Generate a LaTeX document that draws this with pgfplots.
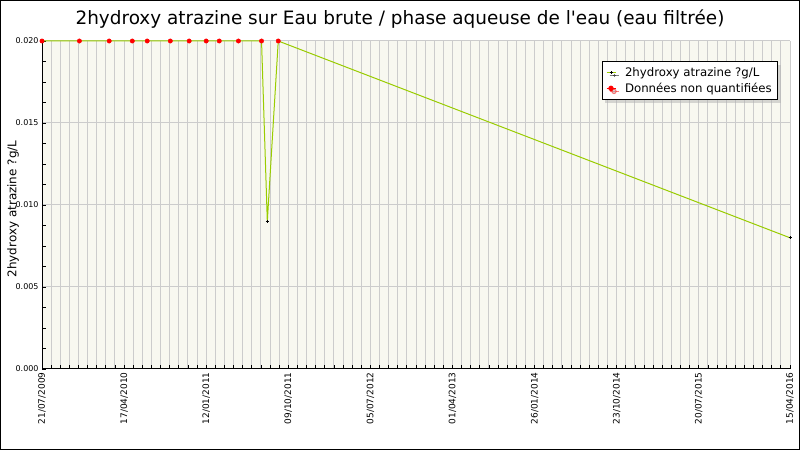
\documentclass[border=0pt]{standalone}
\usepackage{fontspec}
\setmainfont{DejaVu Sans}
\usepackage{pgfplots}
\pgfplotsset{compat=1.18}
\usetikzlibrary{shadows}

\definecolor{bgc}{HTML}{F8F8F0}
\definecolor{gridc}{HTML}{CCCCCC}
\definecolor{linec}{HTML}{99CC00}

% days since 21/07/2009
\pgfplotstableread{
x y
0 0.020
123 0.020
221 0.020
297 0.020
346 0.020
422 0.020
484 0.020
540 0.020
583 0.020
646 0.020
722 0.020
741 0.009
777 0.020
2460 0.008
}\allpts
\pgfplotstableread{
x y
741 0.009
2460 0.008
}\quantpts
\pgfplotstableread{
x y
0 0.020
123 0.020
221 0.020
297 0.020
346 0.020
422 0.020
484 0.020
540 0.020
583 0.020
646 0.020
722 0.020
777 0.020
}\nqpts

\begin{document}
\begin{tikzpicture}
\useasboundingbox (0,0) rectangle (800bp,450bp);
\fill[white] (0,0) rectangle (800bp,450bp);
\begin{axis}[
    at={(42bp,81bp)}, anchor=south west,
    scale only axis, width=748bp, height=328bp,
    xmin=0, xmax=2460, ymin=0, ymax=0.02,
    axis x line=bottom, axis y line=left,
    axis line style={-, black, line width=1bp},
    axis background/.style={fill=bgc},
    clip=false,
    xtick={0,270,540,810,1080,1350,1620,1890,2160,2460},
    xticklabels={21/07/2009,17/04/2010,12/01/2011,09/10/2011,05/07/2012,01/04/2013,26/01/2014,23/10/2014,20/07/2015,15/04/2016},
    minor xtick={0,30,...,2460},
    x tick label style={rotate=90, anchor=east, font=\fontsize{9}{10}\selectfont},
    ytick={0,0.005,0.01,0.015,0.02},
    minor y tick num=3,
    scaled y ticks=false,
    y tick label style={font=\fontsize{8}{9}\selectfont},
    yticklabel style={/pgf/number format/fixed, /pgf/number format/fixed zerofill, /pgf/number format/precision=3},
    /pgf/number format/assume math mode=true,
    tick style={black, line width=0.8bp},
    major tick length=4bp, minor tick length=4bp,
    tick align=inside,
    xmajorgrids, xminorgrids, ymajorgrids,
    major grid style={gridc, line width=1bp},
    minor grid style={gridc, line width=1bp},
    legend style={at={(0.748,0.939)}, anchor=north west, draw=black, fill=white,
        line width=1bp, font=\fontsize{11.8}{13}\selectfont,
        drop shadow={shadow xshift=3bp, shadow yshift=-3bp, fill=gray!60},
        inner xsep=4bp, inner ysep=4bp, nodes={inner sep=2bp},
        column sep=7bp, row sep=1bp},
    legend cell align=left,
]
\addplot[linec, line width=1bp, no marks, forget plot] table {\allpts};
\addplot[only marks, mark=+, mark size=1.5bp, mark options={black, line width=0.8bp},
    legend image code/.code={
        \draw[linec, line width=1bp] (0bp,0bp) -- (9bp,0bp);
        \draw[black, line width=0.8bp] (3bp,0bp) -- (6bp,0bp) (4.5bp,-1.5bp) -- (4.5bp,1.5bp);
    }] table {\quantpts};
\addlegendentry{2hydroxy atrazine ?g/L}
\addplot[only marks, mark=*, mark size=2.2bp, red, mark options={draw=red, fill=red},
    legend image code/.code={
        \draw[red, line width=1bp] (0bp,0bp) -- (9bp,0bp);
        \fill[red] (4.5bp,0bp) circle (2.2bp);
    }] table {\nqpts};
\addlegendentry{Données non quantifiées}
\end{axis}
\node[rotate=90, font=\fontsize{12}{14}\selectfont] at (13bp,241bp) {2hydroxy atrazine ?g/L};
\node[font=\fontsize{18.5}{22}\selectfont] at (400bp,431bp) {2hydroxy atrazine sur Eau brute / phase aqueuse de l\textquotesingle eau (eau filtrée)};
\draw[black, line width=1bp] (0.5bp,0.5bp) rectangle (799.5bp,449.5bp);
\end{tikzpicture}
\end{document}
